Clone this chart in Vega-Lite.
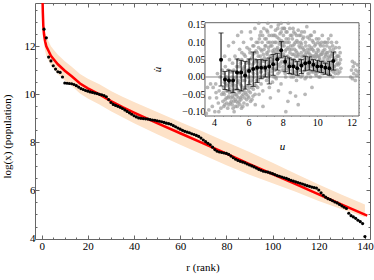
{
"$schema": "https://vega.github.io/schema/vega-lite/v6.json",
"width": 335, "height": 236,
"autosize": "none",
"padding": {"left": 35, "top": 3, "right": 4, "bottom": 41},
"config": {
  "view": {"stroke": null},
  "font": "Liberation Serif",
  "axis": {"labelFont": "Liberation Serif", "titleFont": "Liberation Serif", "labelFontSize": 11, "titleFontSize": 11, "titleFontWeight": "normal", "labelColor": "#000", "titleColor": "#000", "domainColor": "#666", "tickColor": "#666", "grid": false, "labelFlush": false, "labelOverlap": false}
},
"datasets": {
  "pts": [
{"r":1,"v":12.71},{"r":2,"v":12.35},{"r":3,"v":11.55},{"r":4,"v":11.39},{"r":5,"v":11.19},{"r":6,"v":11.05},{"r":7,"v":10.94},{"r":8,"v":10.91},{"r":9,"v":10.72},{"r":10,"v":10.47},
{"r":11,"v":10.46},{"r":12,"v":10.45},{"r":13,"v":10.44},{"r":14,"v":10.41},{"r":15,"v":10.36},{"r":16,"v":10.3},{"r":17,"v":10.24},{"r":18,"v":10.2},{"r":19,"v":10.16},{"r":20,"v":10.13},
{"r":21,"v":10.1},{"r":22,"v":10.08},{"r":23,"v":10.05},{"r":24,"v":10.03},{"r":25,"v":10.0},{"r":26,"v":9.98},{"r":27,"v":9.95},{"r":28,"v":9.9},{"r":29,"v":9.78},{"r":30,"v":9.66},
{"r":31,"v":9.58},{"r":32,"v":9.54},{"r":33,"v":9.5},{"r":34,"v":9.46},{"r":35,"v":9.41},{"r":36,"v":9.35},{"r":37,"v":9.29},{"r":38,"v":9.23},{"r":39,"v":9.17},{"r":40,"v":9.11},
{"r":41,"v":9.06},{"r":42,"v":9.02},{"r":43,"v":9.0},{"r":44,"v":8.99},{"r":45,"v":8.98},{"r":46,"v":8.97},{"r":47,"v":8.95},{"r":48,"v":8.93},{"r":49,"v":8.92},{"r":50,"v":8.9},
{"r":51,"v":8.88},{"r":52,"v":8.86},{"r":53,"v":8.83},{"r":54,"v":8.8},{"r":55,"v":8.78},{"r":56,"v":8.75},{"r":57,"v":8.7},{"r":58,"v":8.65},{"r":59,"v":8.6},{"r":60,"v":8.55},
{"r":61,"v":8.5},{"r":62,"v":8.46},{"r":63,"v":8.43},{"r":64,"v":8.4},{"r":65,"v":8.36},{"r":66,"v":8.33},{"r":67,"v":8.29},{"r":68,"v":8.25},{"r":69,"v":8.18},{"r":70,"v":8.1},
{"r":71,"v":8.03},{"r":72,"v":7.96},{"r":73,"v":7.9},{"r":74,"v":7.8},{"r":75,"v":7.7},{"r":76,"v":7.63},{"r":77,"v":7.6},{"r":78,"v":7.58},{"r":79,"v":7.56},{"r":80,"v":7.54},
{"r":81,"v":7.5},{"r":82,"v":7.43},{"r":83,"v":7.36},{"r":84,"v":7.3},{"r":85,"v":7.25},{"r":86,"v":7.21},{"r":87,"v":7.18},{"r":88,"v":7.15},{"r":89,"v":7.1},{"r":90,"v":7.06},
{"r":91,"v":7.02},{"r":92,"v":6.98},{"r":93,"v":6.93},{"r":94,"v":6.88},{"r":95,"v":6.84},{"r":96,"v":6.8},{"r":97,"v":6.78},{"r":98,"v":6.76},{"r":99,"v":6.73},{"r":100,"v":6.7},
{"r":101,"v":6.66},{"r":102,"v":6.62},{"r":103,"v":6.59},{"r":104,"v":6.56},{"r":105,"v":6.53},{"r":106,"v":6.5},{"r":107,"v":6.46},{"r":108,"v":6.42},{"r":109,"v":6.39},{"r":110,"v":6.36},
{"r":111,"v":6.33},{"r":112,"v":6.3},{"r":113,"v":6.27},{"r":114,"v":6.23},{"r":115,"v":6.2},{"r":116,"v":6.17},{"r":117,"v":6.14},{"r":118,"v":6.12},{"r":119,"v":6.1},{"r":120,"v":6.02},
{"r":121,"v":5.9},{"r":122,"v":5.8},{"r":123,"v":5.72},{"r":124,"v":5.66},{"r":125,"v":5.62},{"r":126,"v":5.57},{"r":127,"v":5.52},{"r":128,"v":5.48},{"r":129,"v":5.42},{"r":130,"v":5.36},
{"r":131,"v":5.3},{"r":132,"v":5.25},{"r":133,"v":5.05},{"r":134,"v":4.95},{"r":135,"v":4.9},{"r":136,"v":4.84},{"r":137,"v":4.76},{"r":138,"v":4.7},{"r":139,"v":4.62},{"r":140,"v":4.08}
  ],
  "fit": [
{"r":0.3,"v":14.2},{"r":0.5,"v":13.4},{"r":0.7,"v":12.85},{"r":1,"v":12.5},{"r":1.5,"v":12.2},{"r":2,"v":12.0},{"r":3,"v":11.8},{"r":4,"v":11.6},{"r":5,"v":11.48},{"r":7,"v":11.25},
{"r":10,"v":10.98},{"r":13,"v":10.75},{"r":16.6,"v":10.45},{"r":20,"v":10.25},{"r":25,"v":10.0},{"r":30,"v":9.72},{"r":35,"v":9.47},{"r":40,"v":9.24},{"r":50,"v":8.8},{"r":60,"v":8.38},
{"r":70,"v":7.96},{"r":80,"v":7.53},{"r":90,"v":7.1},{"r":100,"v":6.68},{"r":110,"v":6.26},{"r":120,"v":5.84},{"r":130,"v":5.41},{"r":141,"v":4.95}
  ],
  "band": [
{"r":0.3,"lo":13.8,"hi":14.6},{"r":0.5,"lo":13.0,"hi":13.8},{"r":0.7,"lo":12.45,"hi":13.25},{"r":1,"lo":12.1,"hi":12.9},{"r":1.5,"lo":11.8,"hi":12.6},{"r":2,"lo":11.6,"hi":12.4},{"r":3,"lo":11.4,"hi":12.2},{"r":4,"lo":11.2,"hi":12.0},{"r":5,"lo":11.08,"hi":11.88},{"r":7,"lo":10.85,"hi":11.65},
{"r":10,"lo":10.58,"hi":11.38},{"r":13,"lo":10.35,"hi":11.15},{"r":16.6,"lo":10.03,"hi":10.85},{"r":20,"lo":9.83,"hi":10.65},{"r":25,"lo":9.58,"hi":10.42},{"r":30,"lo":9.3,"hi":10.14},{"r":35,"lo":9.05,"hi":9.9},{"r":40,"lo":8.8,"hi":9.68},{"r":50,"lo":8.34,"hi":9.26},{"r":60,"lo":7.9,"hi":8.85},
{"r":70,"lo":7.48,"hi":8.44},{"r":80,"lo":7.05,"hi":8.02},{"r":90,"lo":6.65,"hi":7.6},{"r":100,"lo":6.3,"hi":7.15},{"r":110,"lo":5.95,"hi":6.7},{"r":120,"lo":5.56,"hi":6.25},{"r":130,"lo":5.22,"hi":5.82},{"r":140,"lo":4.88,"hi":5.42}
  ],
  "frame": [{"u0":3.476,"u1":12.436,"v0":-0.1125,"v1":0.1566}],
  "cloud": [
{"u":3.55,"v":-0.105},{"u":3.62,"v":-0.03},{"u":3.7,"v":-0.095},{"u":3.8,"v":-0.02},{"u":3.9,"v":-0.085},{"u":3.95,"v":-0.03},{"u":3.75,"v":-0.06},
{"u":4.05,"v":-0.1},{"u":4.1,"v":-0.02},{"u":4.15,"v":-0.06},{"u":4.2,"v":0.01},{"u":4.25,"v":-0.075},{"u":4.3,"v":-0.04},{"u":4.35,"v":0.0},{"u":4.4,"v":-0.09},{"u":4.45,"v":-0.05},{"u":4.12,"v":-0.045},{"u":4.28,"v":-0.1},{"u":4.48,"v":0.02},
{"u":4.52,"v":-0.07},{"u":4.55,"v":-0.03},{"u":4.58,"v":0.01},{"u":4.6,"v":-0.05},{"u":4.63,"v":-0.08},{"u":4.66,"v":0.03},{"u":4.7,"v":-0.02},{"u":4.72,"v":-0.06},{"u":4.75,"v":0.0},{"u":4.78,"v":-0.04},{"u":4.8,"v":-0.09},{"u":4.83,"v":0.02},{"u":4.86,"v":-0.055},{"u":4.88,"v":-0.01},{"u":4.9,"v":0.05},{"u":4.93,"v":-0.035},{"u":4.95,"v":-0.075},{"u":4.98,"v":0.015},{"u":4.62,"v":0.06},{"u":4.85,"v":0.09},
{"u":5.02,"v":-0.045},{"u":5.04,"v":0.0},{"u":5.06,"v":-0.08},{"u":5.08,"v":0.04},{"u":5.1,"v":-0.02},{"u":5.12,"v":-0.06},{"u":5.15,"v":0.02},{"u":5.17,"v":-0.1},{"u":5.2,"v":-0.035},{"u":5.22,"v":0.06},{"u":5.25,"v":-0.065},{"u":5.27,"v":0.0},{"u":5.3,"v":-0.05},{"u":5.32,"v":0.03},{"u":5.35,"v":-0.085},{"u":5.37,"v":-0.015},{"u":5.4,"v":0.05},{"u":5.42,"v":-0.04},{"u":5.45,"v":0.01},{"u":5.47,"v":-0.07},{"u":5.49,"v":0.08},{"u":5.13,"v":0.1},{"u":5.38,"v":0.12},
{"u":5.52,"v":-0.02},{"u":5.54,"v":0.04},{"u":5.56,"v":-0.06},{"u":5.58,"v":0.0},{"u":5.6,"v":-0.09},{"u":5.62,"v":0.07},{"u":5.65,"v":-0.03},{"u":5.67,"v":0.02},{"u":5.7,"v":-0.05},{"u":5.72,"v":0.1},{"u":5.74,"v":-0.075},{"u":5.77,"v":0.03},{"u":5.8,"v":-0.01},{"u":5.82,"v":0.06},{"u":5.84,"v":-0.045},{"u":5.87,"v":0.015},{"u":5.9,"v":-0.065},{"u":5.92,"v":0.085},{"u":5.95,"v":-0.025},{"u":5.97,"v":0.045},{"u":5.6,"v":0.13},
{"u":6.02,"v":-0.04},{"u":6.04,"v":0.02},{"u":6.06,"v":0.08},{"u":6.08,"v":-0.015},{"u":6.1,"v":0.05},{"u":6.13,"v":-0.07},{"u":6.15,"v":0.0},{"u":6.17,"v":0.11},{"u":6.2,"v":-0.03},{"u":6.22,"v":0.035},{"u":6.25,"v":0.065},{"u":6.27,"v":-0.055},{"u":6.3,"v":0.01},{"u":6.32,"v":0.09},{"u":6.35,"v":-0.02},{"u":6.37,"v":0.045},{"u":6.4,"v":-0.08},{"u":6.42,"v":0.025},{"u":6.45,"v":0.075},{"u":6.47,"v":-0.01},{"u":6.12,"v":0.13},{"u":6.38,"v":0.14},
{"u":6.52,"v":0.03},{"u":6.54,"v":-0.03},{"u":6.56,"v":0.1},{"u":6.58,"v":0.06},{"u":6.6,"v":0.0},{"u":6.62,"v":-0.05},{"u":6.65,"v":0.04},{"u":6.67,"v":0.12},{"u":6.7,"v":0.015},{"u":6.72,"v":0.08},{"u":6.74,"v":-0.02},{"u":6.77,"v":0.05},{"u":6.8,"v":0.1},{"u":6.82,"v":0.025},{"u":6.84,"v":-0.04},{"u":6.87,"v":0.065},{"u":6.9,"v":0.14},{"u":6.92,"v":0.005},{"u":6.95,"v":0.045},{"u":6.97,"v":0.09},{"u":6.6,"v":0.155},{"u":6.85,"v":-0.085},
{"u":7.02,"v":0.03},{"u":7.04,"v":0.11},{"u":7.06,"v":-0.01},{"u":7.08,"v":0.07},{"u":7.1,"v":0.05},{"u":7.12,"v":0.13},{"u":7.15,"v":0.0},{"u":7.17,"v":0.085},{"u":7.2,"v":0.035},{"u":7.22,"v":-0.03},{"u":7.25,"v":0.1},{"u":7.27,"v":0.06},{"u":7.3,"v":0.015},{"u":7.32,"v":0.145},{"u":7.35,"v":0.045},{"u":7.37,"v":0.09},{"u":7.4,"v":-0.015},{"u":7.42,"v":0.075},{"u":7.45,"v":0.025},{"u":7.47,"v":0.12},{"u":7.28,"v":-0.06},{"u":7.13,"v":0.155},
{"u":7.52,"v":0.05},{"u":7.54,"v":0.1},{"u":7.56,"v":0.02},{"u":7.58,"v":0.135},{"u":7.6,"v":0.07},{"u":7.62,"v":-0.005},{"u":7.65,"v":0.04},{"u":7.67,"v":0.115},{"u":7.7,"v":0.085},{"u":7.72,"v":0.01},{"u":7.74,"v":0.15},{"u":7.77,"v":0.055},{"u":7.8,"v":0.095},{"u":7.82,"v":0.03},{"u":7.84,"v":0.125},{"u":7.87,"v":0.065},{"u":7.9,"v":-0.02},{"u":7.92,"v":0.105},{"u":7.95,"v":0.045},{"u":7.97,"v":0.14},{"u":7.75,"v":-0.04},{"u":7.9,"v":0.155},
{"u":8.02,"v":0.06},{"u":8.04,"v":0.12},{"u":8.06,"v":0.02},{"u":8.08,"v":0.09},{"u":8.1,"v":0.14},{"u":8.12,"v":0.04},{"u":8.15,"v":0.075},{"u":8.17,"v":0.0},{"u":8.2,"v":0.11},{"u":8.22,"v":0.05},{"u":8.25,"v":0.13},{"u":8.27,"v":0.025},{"u":8.3,"v":0.085},{"u":8.32,"v":0.155},{"u":8.35,"v":0.055},{"u":8.37,"v":0.1},{"u":8.4,"v":0.01},{"u":8.42,"v":0.07},{"u":8.45,"v":0.12},{"u":8.47,"v":0.035},{"u":8.3,"v":-0.07},{"u":8.18,"v":-0.1},{"u":8.44,"v":-0.045},
{"u":8.52,"v":0.08},{"u":8.54,"v":0.02},{"u":8.56,"v":0.11},{"u":8.58,"v":0.05},{"u":8.6,"v":0.14},{"u":8.62,"v":0.0},{"u":8.65,"v":0.065},{"u":8.67,"v":0.095},{"u":8.7,"v":0.03},{"u":8.72,"v":0.125},{"u":8.74,"v":0.045},{"u":8.77,"v":0.075},{"u":8.8,"v":-0.01},{"u":8.82,"v":0.105},{"u":8.84,"v":0.015},{"u":8.87,"v":0.06},{"u":8.9,"v":0.135},{"u":8.92,"v":0.04},{"u":8.95,"v":0.09},{"u":8.97,"v":0.02},{"u":8.75,"v":-0.055},{"u":8.9,"v":-0.08},
{"u":9.02,"v":0.05},{"u":9.04,"v":0.1},{"u":9.06,"v":0.0},{"u":9.08,"v":0.07},{"u":9.1,"v":0.13},{"u":9.12,"v":0.03},{"u":9.15,"v":0.085},{"u":9.17,"v":0.015},{"u":9.2,"v":0.06},{"u":9.22,"v":0.115},{"u":9.25,"v":0.04},{"u":9.27,"v":0.075},{"u":9.3,"v":-0.005},{"u":9.32,"v":0.1},{"u":9.35,"v":0.025},{"u":9.37,"v":0.055},{"u":9.4,"v":0.145},{"u":9.42,"v":0.035},{"u":9.45,"v":0.08},{"u":9.47,"v":0.01},{"u":9.3,"v":-0.05},
{"u":9.52,"v":0.045},{"u":9.54,"v":0.09},{"u":9.56,"v":0.02},{"u":9.58,"v":0.065},{"u":9.6,"v":0.12},{"u":9.62,"v":0.0},{"u":9.65,"v":0.05},{"u":9.67,"v":0.085},{"u":9.7,"v":0.03},{"u":9.72,"v":0.105},{"u":9.74,"v":0.06},{"u":9.77,"v":0.015},{"u":9.8,"v":0.075},{"u":9.82,"v":0.04},{"u":9.84,"v":0.13},{"u":9.87,"v":0.025},{"u":9.9,"v":0.055},{"u":9.92,"v":0.095},{"u":9.95,"v":0.005},{"u":9.97,"v":0.07},{"u":9.7,"v":-0.03},
{"u":10.02,"v":0.04},{"u":10.04,"v":0.08},{"u":10.06,"v":0.015},{"u":10.08,"v":0.06},{"u":10.1,"v":0.11},{"u":10.12,"v":0.03},{"u":10.15,"v":0.05},{"u":10.17,"v":0.0},{"u":10.2,"v":0.09},{"u":10.22,"v":0.035},{"u":10.25,"v":0.065},{"u":10.27,"v":0.02},{"u":10.3,"v":0.12},{"u":10.32,"v":0.045},{"u":10.35,"v":0.075},{"u":10.37,"v":0.01},{"u":10.4,"v":0.055},{"u":10.42,"v":0.1},{"u":10.45,"v":0.025},{"u":10.47,"v":0.065},
{"u":10.52,"v":0.03},{"u":10.55,"v":0.07},{"u":10.57,"v":0.01},{"u":10.6,"v":0.05},{"u":10.62,"v":0.1},{"u":10.65,"v":0.02},{"u":10.68,"v":0.06},{"u":10.7,"v":0.035},{"u":10.73,"v":0.085},{"u":10.75,"v":0.005},{"u":10.78,"v":0.045},{"u":10.8,"v":0.12},{"u":10.83,"v":0.025},{"u":10.85,"v":0.065},{"u":10.88,"v":0.04},{"u":10.9,"v":0.09},{"u":10.93,"v":0.015},{"u":10.96,"v":0.055},
{"u":11.0,"v":0.03},{"u":11.03,"v":0.07},{"u":11.06,"v":0.01},{"u":11.1,"v":0.05},{"u":11.13,"v":0.1},{"u":11.17,"v":0.02},{"u":11.2,"v":0.06},{"u":11.24,"v":0.035},{"u":11.28,"v":0.085},{"u":11.32,"v":0.015},{"u":11.36,"v":0.05},
{"u":11.95,"v":0.0},{"u":12.0,"v":0.02},{"u":12.05,"v":-0.005},{"u":12.1,"v":0.03},{"u":12.13,"v":0.01},{"u":12.18,"v":0.04},{"u":12.22,"v":-0.01},{"u":12.25,"v":0.02},{"u":12.3,"v":0.005},{"u":12.35,"v":0.035},{"u":12.38,"v":0.015},{"u":12.05,"v":0.045},
{"u":4.54,"v":-0.045},{"u":4.57,"v":-0.085},{"u":4.61,"v":-0.015},{"u":4.65,"v":-0.065},{"u":4.68,"v":0.0},{"u":4.71,"v":-0.04},{"u":4.74,"v":-0.075},{"u":4.77,"v":-0.025},{"u":4.81,"v":-0.06},{"u":4.84,"v":-0.005},{"u":4.87,"v":-0.08},{"u":4.91,"v":-0.045},{"u":4.94,"v":-0.015},{"u":4.97,"v":-0.06},
{"u":5.01,"v":-0.07},{"u":5.03,"v":-0.025},{"u":5.07,"v":-0.055},{"u":5.09,"v":0.015},{"u":5.11,"v":-0.09},{"u":5.14,"v":-0.04},{"u":5.16,"v":-0.07},{"u":5.19,"v":-0.005},{"u":5.21,"v":-0.05},{"u":5.24,"v":-0.085},{"u":5.26,"v":-0.025},{"u":5.29,"v":-0.07},{"u":5.31,"v":0.015},{"u":5.34,"v":-0.055},{"u":5.36,"v":-0.035},{"u":5.39,"v":-0.075},{"u":5.41,"v":-0.01},{"u":5.44,"v":-0.06},{"u":5.46,"v":0.03},{"u":5.48,"v":-0.045},
{"u":5.51,"v":-0.08},{"u":5.53,"v":-0.04},{"u":5.55,"v":0.015},{"u":5.57,"v":-0.065},{"u":5.59,"v":-0.025},{"u":5.61,"v":0.05},{"u":5.63,"v":-0.055},{"u":5.66,"v":-0.01},{"u":5.68,"v":-0.085},{"u":5.71,"v":0.025},{"u":5.73,"v":-0.04},{"u":5.75,"v":0.065},{"u":5.78,"v":-0.06},{"u":5.81,"v":0.01},{"u":5.83,"v":-0.03},{"u":5.86,"v":0.04},{"u":5.88,"v":-0.05},{"u":5.91,"v":0.0},{"u":5.93,"v":-0.08},{"u":5.96,"v":0.02},{"u":5.98,"v":-0.055},
{"u":6.01,"v":0.0},{"u":6.03,"v":-0.06},{"u":6.05,"v":0.04},{"u":6.07,"v":-0.03},{"u":6.09,"v":0.07},{"u":6.11,"v":-0.045},{"u":6.14,"v":0.025},{"u":6.16,"v":-0.01},{"u":6.19,"v":0.055},{"u":6.21,"v":-0.065},{"u":6.24,"v":0.015},{"u":6.26,"v":0.09},{"u":6.29,"v":-0.035},{"u":6.31,"v":0.04},{"u":6.34,"v":0.0},{"u":6.36,"v":0.07},{"u":6.39,"v":-0.05},{"u":6.41,"v":0.05},{"u":6.44,"v":-0.025},{"u":6.46,"v":0.1},{"u":6.49,"v":0.02},
{"u":6.51,"v":0.07},{"u":6.53,"v":0.01},{"u":6.55,"v":0.045},{"u":6.57,"v":-0.01},{"u":6.59,"v":0.085},{"u":6.61,"v":0.03},{"u":6.64,"v":0.11},{"u":6.66,"v":0.0},{"u":6.69,"v":0.06},{"u":6.71,"v":0.035},{"u":6.73,"v":0.13},{"u":6.76,"v":0.015},{"u":6.78,"v":0.075},{"u":6.81,"v":0.045},{"u":6.83,"v":0.12},{"u":6.86,"v":0.0},{"u":6.88,"v":0.03},{"u":6.91,"v":0.08},{"u":6.93,"v":0.055},{"u":6.96,"v":0.11},{"u":6.99,"v":0.02},
{"u":7.01,"v":0.09},{"u":7.03,"v":0.05},{"u":7.05,"v":0.02},{"u":7.07,"v":0.135},{"u":7.09,"v":0.065},{"u":7.11,"v":0.01},{"u":7.14,"v":0.1},{"u":7.16,"v":0.04},{"u":7.19,"v":0.075},{"u":7.21,"v":0.12},{"u":7.24,"v":0.005},{"u":7.26,"v":0.045},{"u":7.29,"v":0.09},{"u":7.31,"v":0.06},{"u":7.34,"v":0.025},{"u":7.36,"v":0.12},{"u":7.39,"v":0.05},{"u":7.41,"v":0.1},{"u":7.44,"v":0.04},{"u":7.46,"v":0.07},{"u":7.49,"v":0.0},
{"u":7.51,"v":0.08},{"u":7.53,"v":0.035},{"u":7.55,"v":0.12},{"u":7.57,"v":0.06},{"u":7.59,"v":0.0},{"u":7.61,"v":0.1},{"u":7.64,"v":0.025},{"u":7.66,"v":0.08},{"u":7.69,"v":0.05},{"u":7.71,"v":0.14},{"u":7.73,"v":0.035},{"u":7.76,"v":0.075},{"u":7.78,"v":0.11},{"u":7.81,"v":0.015},{"u":7.83,"v":0.06},{"u":7.86,"v":0.1},{"u":7.88,"v":0.04},{"u":7.91,"v":0.13},{"u":7.93,"v":0.07},{"u":7.96,"v":0.02},{"u":7.98,"v":0.09},
{"u":8.01,"v":0.03},{"u":8.03,"v":0.1},{"u":8.05,"v":0.065},{"u":8.07,"v":0.14},{"u":8.09,"v":0.045},{"u":8.11,"v":0.1},{"u":8.14,"v":0.01},{"u":8.16,"v":0.05},{"u":8.19,"v":0.13},{"u":8.21,"v":0.08},{"u":8.24,"v":0.035},{"u":8.26,"v":0.1},{"u":8.29,"v":0.06},{"u":8.31,"v":0.02},{"u":8.34,"v":0.11},{"u":8.36,"v":0.04},{"u":8.39,"v":0.08},{"u":8.41,"v":0.14},{"u":8.44,"v":0.05},{"u":8.46,"v":0.09},{"u":8.49,"v":0.0},
{"u":8.51,"v":0.04},{"u":8.53,"v":0.12},{"u":8.55,"v":0.065},{"u":8.57,"v":0.01},{"u":8.59,"v":0.09},{"u":8.61,"v":0.035},{"u":8.64,"v":0.13},{"u":8.66,"v":0.05},{"u":8.69,"v":0.08},{"u":8.71,"v":0.015},{"u":8.73,"v":0.1},{"u":8.76,"v":0.06},{"u":8.78,"v":0.03},{"u":8.81,"v":0.12},{"u":8.83,"v":0.07},{"u":8.86,"v":0.035},{"u":8.88,"v":0.1},{"u":8.91,"v":0.005},{"u":8.93,"v":0.065},{"u":8.96,"v":0.12},{"u":8.98,"v":0.05},
{"u":9.01,"v":0.085},{"u":9.03,"v":0.02},{"u":9.05,"v":0.12},{"u":9.07,"v":0.04},{"u":9.09,"v":0.095},{"u":9.11,"v":0.06},{"u":9.14,"v":0.005},{"u":9.16,"v":0.11},{"u":9.19,"v":0.035},{"u":9.21,"v":0.08},{"u":9.24,"v":0.05},{"u":9.26,"v":0.13},{"u":9.29,"v":0.02},{"u":9.31,"v":0.065},{"u":9.34,"v":0.09},{"u":9.36,"v":0.04},{"u":9.39,"v":0.0},{"u":9.41,"v":0.07},{"u":9.44,"v":0.115},{"u":9.46,"v":0.05},{"u":9.49,"v":0.03},
{"u":9.51,"v":0.07},{"u":9.53,"v":0.01},{"u":9.55,"v":0.11},{"u":9.57,"v":0.04},{"u":9.59,"v":0.08},{"u":9.61,"v":0.03},{"u":9.64,"v":0.06},{"u":9.66,"v":0.12},{"u":9.69,"v":0.015},{"u":9.71,"v":0.05},{"u":9.73,"v":0.08},{"u":9.76,"v":0.04},{"u":9.78,"v":0.1},{"u":9.81,"v":0.02},{"u":9.83,"v":0.06},{"u":9.86,"v":0.09},{"u":9.88,"v":0.035},{"u":9.91,"v":0.01},{"u":9.93,"v":0.065},{"u":9.96,"v":0.11},{"u":9.98,"v":0.04},
{"u":10.01,"v":0.06},{"u":10.03,"v":0.02},{"u":10.05,"v":0.1},{"u":10.07,"v":0.045},{"u":10.09,"v":0.075},{"u":10.11,"v":0.0},{"u":10.14,"v":0.055},{"u":10.16,"v":0.095},{"u":10.19,"v":0.02},{"u":10.21,"v":0.065},{"u":10.24,"v":0.04},{"u":10.26,"v":0.1},{"u":10.29,"v":0.01},{"u":10.31,"v":0.07},{"u":10.34,"v":0.03},{"u":10.36,"v":0.09},{"u":10.39,"v":0.045},{"u":10.41,"v":0.015},{"u":10.44,"v":0.08},{"u":10.46,"v":0.04},{"u":10.49,"v":0.1},
{"u":10.51,"v":0.06},{"u":10.54,"v":0.015},{"u":10.56,"v":0.09},{"u":10.59,"v":0.035},{"u":10.61,"v":0.07},{"u":10.64,"v":0.04},{"u":10.66,"v":0.11},{"u":10.69,"v":0.01},{"u":10.71,"v":0.055},{"u":10.74,"v":0.03},{"u":10.76,"v":0.075},{"u":10.79,"v":0.02},{"u":10.81,"v":0.06},{"u":10.84,"v":0.1},{"u":10.86,"v":0.035},{"u":10.89,"v":0.065},{"u":10.91,"v":0.0},{"u":10.94,"v":0.08},{"u":10.97,"v":0.03},
{"u":11.01,"v":0.05},{"u":11.04,"v":0.02},{"u":11.08,"v":0.085},{"u":11.11,"v":0.035},{"u":11.15,"v":0.06},{"u":11.19,"v":0.04},{"u":11.22,"v":0.01},{"u":11.26,"v":0.06},{"u":11.3,"v":0.04},{"u":11.34,"v":0.07},{"u":11.38,"v":0.025}
  ],
  "bins": [
{"u":4.41,"v":0.05,"lo":-0.026,"hi":0.127},{"u":4.64,"v":-0.007,"lo":-0.036,"hi":0.016},{"u":4.87,"v":-0.01,"lo":-0.04,"hi":0.02},{"u":5.11,"v":-0.01,"lo":-0.045,"hi":0.017},{"u":5.34,"v":0.013,"lo":-0.036,"hi":0.052},
{"u":5.58,"v":0.013,"lo":-0.04,"hi":0.048},{"u":5.81,"v":0.004,"lo":-0.035,"hi":0.045},{"u":6.04,"v":0.017,"lo":-0.022,"hi":0.052},{"u":6.28,"v":0.023,"lo":-0.027,"hi":0.072},{"u":6.51,"v":0.027,"lo":-0.016,"hi":0.05},
{"u":6.74,"v":0.027,"lo":-0.005,"hi":0.05},{"u":6.98,"v":0.027,"lo":0.0,"hi":0.048},{"u":7.21,"v":0.03,"lo":-0.02,"hi":0.055},{"u":7.44,"v":0.037,"lo":0.005,"hi":0.065},{"u":7.68,"v":0.051,"lo":0.02,"hi":0.068},
{"u":7.91,"v":0.077,"lo":0.055,"hi":0.102},{"u":8.14,"v":0.044,"lo":0.015,"hi":0.06},{"u":8.38,"v":0.03,"lo":0.01,"hi":0.055},{"u":8.61,"v":0.03,"lo":0.008,"hi":0.05},{"u":8.84,"v":0.025,"lo":0.005,"hi":0.045},
{"u":9.08,"v":0.033,"lo":0.01,"hi":0.05},{"u":9.31,"v":0.04,"lo":0.018,"hi":0.06},{"u":9.54,"v":0.042,"lo":0.02,"hi":0.058},{"u":9.78,"v":0.035,"lo":0.018,"hi":0.05},{"u":10.01,"v":0.03,"lo":0.015,"hi":0.048},
{"u":10.24,"v":0.03,"lo":0.013,"hi":0.045},{"u":10.48,"v":0.027,"lo":0.008,"hi":0.04},{"u":10.71,"v":0.025,"lo":0.005,"hi":0.045},{"u":10.94,"v":0.046,"lo":0.02,"hi":0.072}
  ]
},
"layer": [
  {
    "layer": [
      {
        "data": {"name": "band"},
        "mark": {"type": "area", "color": "#fde2c8", "clip": true},
        "encoding": {
          "x": {"field": "r", "type": "quantitative", "scale": {"domain": [-2.9, 142.2], "nice": false, "zero": false},
            "axis": {"orient": "bottom", "values": [0,5,10,15,20,25,30,35,40,45,50,55,60,65,70,75,80,85,90,95,100,105,110,115,120,125,130,135,140],
              "labelExpr": "datum.value % 20 === 0 ? format(datum.value, 'd') : ''",
              "tickSize": {"condition": {"test": "datum.value % 20 === 0", "value": -4}, "value": -2},
              "labelPadding": 5, "title": "r (rank)", "titleFontWeight": "normal", "titlePadding": 8}},
          "y": {"field": "lo", "type": "quantitative", "scale": {"domain": [3.98, 13.8], "nice": false, "zero": false},
            "axis": {"orient": "left", "values": [4,4.5,5,5.5,6,6.5,7,7.5,8,8.5,9,9.5,10,10.5,11,11.5,12,12.5,13,13.5],
              "labelExpr": "datum.value % 2 === 0 ? format(datum.value, 'd') : ''",
              "tickSize": {"condition": {"test": "datum.value % 2 === 0", "value": -4}, "value": -2},
              "labelPadding": 4, "title": "log(x) (population)", "titleFontWeight": "normal", "titleX": -28, "titleY": 133, "titleBaseline": "middle", "titleAngle": -90}},
          "y2": {"field": "hi"}
        }
      },
      {
        "data": {"name": "fit"},
        "mark": {"type": "line", "color": "#ff0000", "strokeWidth": 2.5, "clip": true},
        "encoding": {
          "x": {"field": "r", "type": "quantitative",
            "axis": {"orient": "top", "values": [0,5,10,15,20,25,30,35,40,45,50,55,60,65,70,75,80,85,90,95,100,105,110,115,120,125,130,135,140],
              "labels": false, "title": null,
              "tickSize": {"condition": {"test": "datum.value % 20 === 0", "value": -4}, "value": -2}}},
          "y": {"field": "v", "type": "quantitative",
            "axis": {"orient": "right", "values": [4,4.5,5,5.5,6,6.5,7,7.5,8,8.5,9,9.5,10,10.5,11,11.5,12,12.5,13,13.5],
              "labels": false, "title": null,
              "tickSize": {"condition": {"test": "datum.value % 2 === 0", "value": -4}, "value": -2}}}
        }
      },
      {
        "data": {"name": "pts"},
        "mark": {"type": "circle", "color": "#000", "size": 10, "opacity": 1},
        "encoding": {
          "x": {"field": "r", "type": "quantitative", "axis": null},
          "y": {"field": "v", "type": "quantitative", "axis": null}
        }
      }
    ],
    "resolve": {"axis": {"x": "independent", "y": "independent"}}
  },
  {
    "layer": [
      {
        "data": {"name": "frame"},
        "mark": {"type": "rect", "fill": "#fff", "stroke": "#666", "strokeWidth": 1},
        "encoding": {
          "x": {"field": "u0", "type": "quantitative", "scale": {"domain": [-6.414, 13.076], "nice": false, "zero": false},
            "axis": {"orient": "bottom", "offset": -123, "domain": false,
              "values": [3.5,4,4.5,5,5.5,6,6.5,7,7.5,8,8.5,9,9.5,10,10.5,11,11.5,12],
              "labelExpr": "datum.value % 2 === 0 ? format(datum.value, 'd') : ''",
              "tickSize": {"condition": {"test": "datum.value % 2 === 0", "value": -3}, "value": -1.5},
              "labelPadding": 4, "labelFontSize": 10,
              "title": "u", "titleFontStyle": "italic", "titleFontWeight": "normal", "titleX": 247, "titleY": 33, "titleBaseline": "alphabetic"}},
          "x2": {"field": "u1"},
          "y": {"field": "v0", "type": "quantitative", "scale": {"domain": [-0.4672, 0.2134], "nice": false, "zero": false},
            "axis": {"orient": "left", "offset": -170, "domain": false,
              "values": [-0.11,-0.1,-0.09,-0.08,-0.07,-0.06,-0.05,-0.04,-0.03,-0.02,-0.01,0,0.01,0.02,0.03,0.04,0.05,0.06,0.07,0.08,0.09,0.1,0.11,0.12,0.13,0.14,0.15],
              "labelExpr": "abs(datum.value*20 - round(datum.value*20)) < 0.001 ? format(datum.value, '.2f') : ''",
              "tickSize": {"condition": {"test": "abs(datum.value*20 - round(datum.value*20)) < 0.001", "value": -3}, "value": -1.5},
              "labelPadding": 3, "labelFontSize": 10,
              "title": "u\u0307", "titleFontStyle": "italic", "titleFontWeight": "normal", "titleX": -48, "titleY": 66, "titleBaseline": "middle", "titleAngle": -90}},
          "y2": {"field": "v1"}
        }
      },
      {
        "data": {"name": "cloud"},
        "mark": {"type": "circle", "color": "#9a9a9a", "size": 14, "opacity": 0.7},
        "encoding": {
          "x": {"field": "u", "type": "quantitative",
            "axis": {"orient": "top", "offset": -19.7, "domain": false, "labels": false, "title": null,
              "values": [3.5,4,4.5,5,5.5,6,6.5,7,7.5,8,8.5,9,9.5,10,10.5,11,11.5,12],
              "tickSize": {"condition": {"test": "datum.value % 2 === 0", "value": -3}, "value": -1.5}}},
          "y": {"field": "v", "type": "quantitative",
            "axis": {"orient": "right", "offset": -11, "domain": false, "labels": false, "title": null,
              "values": [-0.11,-0.1,-0.09,-0.08,-0.07,-0.06,-0.05,-0.04,-0.03,-0.02,-0.01,0,0.01,0.02,0.03,0.04,0.05,0.06,0.07,0.08,0.09,0.1,0.11,0.12,0.13,0.14,0.15],
              "tickSize": {"condition": {"test": "abs(datum.value*20 - round(datum.value*20)) < 0.001", "value": -3}, "value": -1.5}}}
        }
      },
      {
        "data": {"name": "frame"},
        "mark": {"type": "rule", "color": "#888", "strokeWidth": 1},
        "encoding": {
          "x": {"field": "u0", "type": "quantitative", "axis": null},
          "x2": {"field": "u1"},
          "y": {"datum": 0, "type": "quantitative", "axis": null}
        }
      },
      {
        "data": {"name": "bins"},
        "mark": {"type": "rule", "color": "#000", "strokeWidth": 1},
        "encoding": {
          "x": {"field": "u", "type": "quantitative", "axis": null},
          "y": {"field": "lo", "type": "quantitative", "axis": null},
          "y2": {"field": "hi"}
        }
      },
      {
        "data": {"name": "bins"},
        "mark": {"type": "tick", "orient": "horizontal", "color": "#000", "size": 5, "thickness": 1},
        "encoding": {
          "x": {"field": "u", "type": "quantitative", "axis": null},
          "y": {"field": "lo", "type": "quantitative", "axis": null}
        }
      },
      {
        "data": {"name": "bins"},
        "mark": {"type": "tick", "orient": "horizontal", "color": "#000", "size": 5, "thickness": 1},
        "encoding": {
          "x": {"field": "u", "type": "quantitative", "axis": null},
          "y": {"field": "hi", "type": "quantitative", "axis": null}
        }
      },
      {
        "data": {"name": "bins"},
        "mark": {"type": "circle", "color": "#000", "size": 16, "opacity": 1},
        "encoding": {
          "x": {"field": "u", "type": "quantitative", "axis": null},
          "y": {"field": "v", "type": "quantitative", "axis": null}
        }
      }
    ],
    "resolve": {"axis": {"x": "independent", "y": "independent"}}
  }
],
"resolve": {"scale": {"x": "independent", "y": "independent"}, "axis": {"x": "independent", "y": "independent"}}
}
